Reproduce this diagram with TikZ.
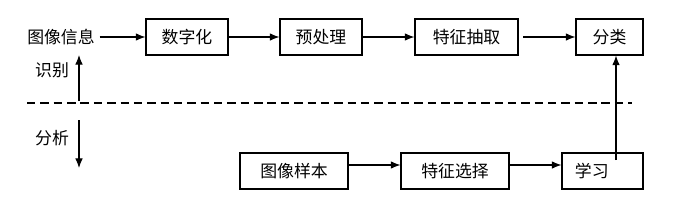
\documentclass[tikz,border=0pt]{standalone}
\usepackage{fontspec}
\newfontfamily\cjk{Noto Sans CJK SC}
\usetikzlibrary{arrows.meta,calc}

\begin{document}
\begin{tikzpicture}[
  x=0.025cm, y=-0.025cm,
  >={Latex[length=2.4mm,width=1.9mm]},
  font=\cjk\fontsize{12}{14}\selectfont,
  box/.style={draw, line width=0.8pt, minimum height=0.9cm, inner sep=0pt},
  flow/.style={->, line width=0.8pt}
]
  \useasboundingbox (0,0) rectangle (673,205);
  % 识别 (上行)
  \node (info) at (61,37) {图像信息};
  \node[box, minimum width=2.05cm]  (szh)  at (187,37)   {数字化};
  \node[box, minimum width=2.05cm]  (ycl)  at (321,37)   {预处理};
  \node[box, minimum width=2.575cm] (tzcq) at (466.5,37) {特征抽取};
  \node[box, minimum width=1.675cm] (fl)   at (609.5,37) {分类};
  \draw[flow] (info) -- (szh);
  \draw[flow] (szh) -- (ycl);
  \draw[flow] (ycl) -- (tzcq);
  \draw[flow, shorten <=0.12cm] (tzcq) -- (fl);

  % 分割线与方向
  \coordinate (dl) at (27,103);
  \coordinate (dr) at (632,103);
  \draw[line width=0.8pt, dash pattern=on 6pt off 3.5pt] (dl) -- (dr);
  \node (sb) at (52,70)  {识别};
  \node (fx) at (52,138) {分析};
  \coordinate (upa) at (79,101);
  \coordinate (upb) at (79,55);
  \draw[flow] (upa) -- (upb);
  \coordinate (dna) at (79,120);
  \coordinate (dnb) at (79,168);
  \draw[flow] (dna) -- (dnb);

  % 分析 (下行)
  \node[box, minimum width=2.7cm] (txyb) at (294,171) {图像样本};
  \node[box, minimum width=2.7cm] (tzxz) at (455,171) {特征选择};
  \node[box, minimum width=2.025cm, text width=1.375cm, inner xsep=0.325cm,
        align=left] (xx) at (602.5,171) {学习};
  \draw[flow] ([yshift=0.15cm]txyb.east) -- ([yshift=0.15cm]tzxz.west);
  \draw[flow] ([yshift=0.15cm]tzxz.east) -- ([yshift=0.15cm]xx.west);
  \coordinate (lrn) at (616,160);
  \draw[flow] (lrn) -- (lrn |- fl.south);
\end{tikzpicture}
\end{document}
